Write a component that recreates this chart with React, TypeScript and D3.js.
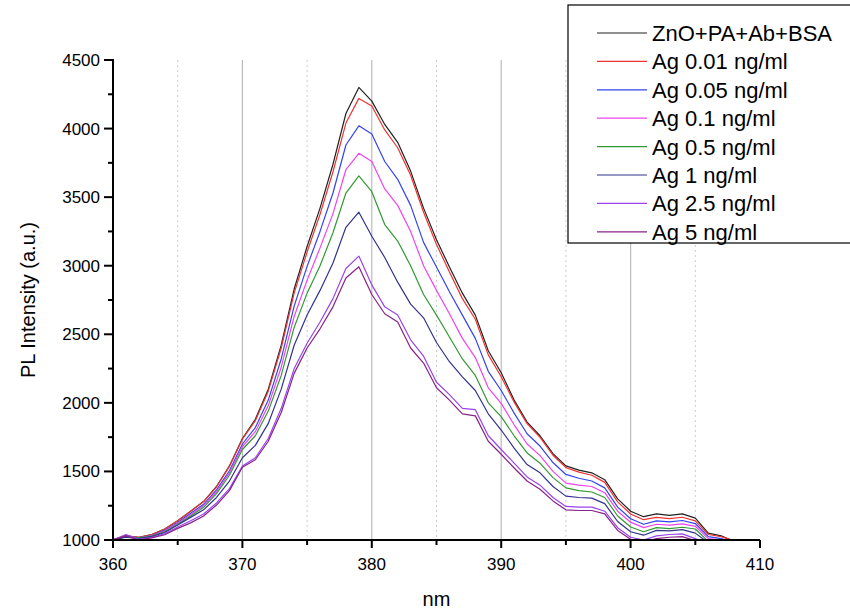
import React from 'react';
import * as d3 from 'd3';

// wavelength grid (nm), 1 nm steps
const wavelengths = d3.range(360, 410, 1);

const seriesNames = [
  'ZnO+PA+Ab+BSA',
  'Ag 0.01 ng/ml',
  'Ag 0.05 ng/ml',
  'Ag 0.1 ng/ml',
  'Ag 0.5 ng/ml',
  'Ag 1 ng/ml',
  'Ag 2.5 ng/ml',
  'Ag 5 ng/ml',
];

const colors = ['#222222', '#ee3333', '#3344ee', '#ee44ee', '#339933', '#33338f', '#9944ee', '#882288'];

const base = [1000, 1030, 1020, 1040, 1080, 1140, 1210, 1280, 1390, 1540, 1740, 1880, 2100, 2420, 2830, 3140, 3420, 3740, 4110, 4300,
  4200, 4030, 3900, 3690, 3420, 3190, 2990, 2800, 2640, 2380, 2220, 2020, 1860, 1760, 1630, 1540, 1510, 1490, 1440, 1300,
  1210, 1170, 1190, 1180, 1190, 1160, 1050, 1030, 990, 980];
const ag001 = [1000, 1030, 1020, 1040, 1080, 1140, 1210, 1280, 1388, 1537, 1735, 1870, 2085, 2400, 2800, 3100, 3375, 3685, 4040, 4220,
  4165, 3990, 3860, 3660, 3390, 3155, 2955, 2760, 2610, 2350, 2190, 2005, 1848, 1748, 1618, 1528, 1495, 1472, 1420, 1278,
  1190, 1148, 1165, 1156, 1166, 1140, 1040, 1025, 995, 985];
const ag005 = [1000, 1025, 1015, 1032, 1070, 1128, 1195, 1260, 1365, 1505, 1700, 1820, 2020, 2320, 2705, 2995, 3250, 3530, 3880, 4020,
  3960, 3760, 3630, 3440, 3170, 2990, 2810, 2640, 2470, 2230, 2090, 1925, 1775, 1685, 1565, 1478, 1450, 1430, 1380, 1240,
  1155, 1115, 1140, 1132, 1142, 1120, 1025, 1010, 985, 975];
const ag01 = [1000, 1025, 1015, 1030, 1065, 1122, 1185, 1250, 1352, 1490, 1680, 1790, 1980, 2260, 2630, 2895, 3130, 3380, 3700, 3820,
  3760, 3560, 3440, 3250, 3000, 2820, 2650, 2470, 2330, 2110, 1996, 1840, 1700, 1615, 1500, 1415, 1400, 1390, 1345, 1210,
  1130, 1090, 1115, 1108, 1118, 1100, 1010, 1000, 975, 965];
const ag05 = [1000, 1025, 1015, 1028, 1060, 1115, 1175, 1238, 1338, 1472, 1660, 1760, 1940, 2200, 2550, 2800, 3000, 3240, 3530, 3655,
  3540, 3300, 3180, 3000, 2790, 2640, 2480, 2320, 2200, 2000, 1899, 1760, 1635, 1560, 1455, 1380, 1360, 1350, 1310, 1175,
  1095, 1060, 1090, 1083, 1093, 1080, 990, 985, 965, 955];
const ag1 = [1000, 1020, 1010, 1025, 1055, 1110, 1165, 1220, 1310, 1430, 1600, 1690, 1850, 2100, 2420, 2640, 2820, 3020, 3280, 3390,
  3215, 3060, 2880, 2720, 2620, 2440, 2300, 2190, 2090, 1920, 1802, 1670, 1550, 1490, 1390, 1320, 1310, 1305, 1265, 1135,
  1060, 1035, 1070, 1066, 1076, 1050, 980, 980, 955, 945];
const ag25 = [1000, 1040, 1005, 1020, 1045, 1095, 1140, 1190, 1270, 1375, 1540, 1600, 1740, 1960, 2250, 2435, 2590, 2760, 2980, 3070,
  2860, 2700, 2640, 2460, 2340, 2150, 2060, 1960, 1950, 1760, 1660, 1560, 1460, 1400, 1310, 1245, 1240, 1240, 1210, 1090,
  1020, 1000, 1030, 1040, 1045, 1010, 965, 975, 945, 935];
const ag5 = [1000, 1030, 1000, 1015, 1038, 1085, 1125, 1175, 1255, 1360, 1530, 1585, 1720, 1930, 2215, 2400, 2540, 2700, 2910, 2992,
  2790, 2650, 2590, 2400, 2290, 2110, 2020, 1920, 1905, 1720, 1625, 1525, 1430, 1370, 1285, 1220, 1215, 1215, 1190, 1070,
  1005, 985, 1010, 1020, 1025, 995, 950, 960, 935, 925];

const seriesValues = [base, ag001, ag005, ag01, ag05, ag1, ag25, ag5];

const xMajor = [360, 370, 380, 390, 400, 410];
const xMinor = [365, 375, 385, 395, 405];
const yMajor = [1000, 1500, 2000, 2500, 3000, 3500, 4000, 4500];
const yMinor = [1250, 1750, 2250, 2750, 3250, 3750, 4250];

const width = 850;
const height = 610;
const margin = { top: 60, right: 90, bottom: 70, left: 113 };
const font = '"Liberation Sans", Arial, sans-serif';

export default function App() {
  const x = d3.scaleLinear().domain([360, 410]).range([margin.left, width - margin.right]);
  const y = d3.scaleLinear().domain([1000, 4500]).range([height - margin.bottom, margin.top]);
  const y0 = y(1000);

  const line = d3.line<number>()
    .x((_, i) => x(wavelengths[i]))
    .y(d => y(d));

  return (
    <svg width={width} height={height} style={{ position: 'absolute', left: 0, top: 0, background: '#fff' }}
      fontFamily={font}>
      <defs>
        <clipPath id="plot">
          <rect x={x(360)} y={0} width={x(410) - x(360)} height={y0} />
        </clipPath>
      </defs>

      {/* grid */}
      {xMajor.filter(v => v > 360 && v < 410).map(v => (
        <line key={'g' + v} x1={x(v)} x2={x(v)} y1={y(4500)} y2={y0} stroke="#bbbbbb" strokeWidth={1.2} />
      ))}
      {xMinor.map(v => (
        <line key={'gm' + v} x1={x(v)} x2={x(v)} y1={y(4500)} y2={y0} stroke="#cccccc" strokeWidth={1}
          strokeDasharray="2,3" />
      ))}

      {/* curves */}
      <g clipPath="url(#plot)" fill="none">
        {seriesValues.map((vals, i) => (
          <path key={i} d={line(vals) || ''} stroke={colors[i]} strokeWidth={1.2} strokeLinejoin="round" />
        ))}
      </g>

      {/* axes */}
      <line x1={x(360)} x2={x(410)} y1={y0} y2={y0} stroke="#000" strokeWidth={2} />
      <line x1={x(360)} x2={x(360)} y1={y(4500) - 1} y2={y0 + 1} stroke="#000" strokeWidth={2} />
      {xMajor.map(v => (
        <g key={'xt' + v}>
          <line x1={x(v)} x2={x(v)} y1={y0} y2={y0 + 8} stroke="#000" strokeWidth={2} />
          <text x={x(v)} y={y0 + 30} fontSize={17} textAnchor="middle">{v}</text>
        </g>
      ))}
      {xMinor.map(v => (
        <line key={'xm' + v} x1={x(v)} x2={x(v)} y1={y0} y2={y0 + 5} stroke="#000" strokeWidth={2} />
      ))}
      {yMajor.map(v => (
        <g key={'yt' + v}>
          <line x1={x(360) - 9} x2={x(360)} y1={y(v)} y2={y(v)} stroke="#000" strokeWidth={2} />
          <text x={x(360) - 13} y={y(v) + 6} fontSize={17} textAnchor="end">{v}</text>
        </g>
      ))}
      {yMinor.map(v => (
        <line key={'ym' + v} x1={x(360) - 5} x2={x(360)} y1={y(v)} y2={y(v)} stroke="#000" strokeWidth={2} />
      ))}

      <text x={(x(360) + x(410)) / 2} y={606} fontSize={20} textAnchor="middle">nm</text>
      <text transform={`translate(35,${(y(1000) + y(4500)) / 2}) rotate(-90)`} fontSize={20} textAnchor="middle">
        PL Intensity (a.u.)
      </text>

      {/* legend */}
      <rect x={568} y={5} width={300} height={238} fill="#fff" stroke="#000" strokeWidth={1.2} />
      {seriesNames.map((name, i) => {
        const cy = 33 + i * 28.4;
        return (
          <g key={name}>
            <line x1={597} x2={647} y1={cy} y2={cy} stroke={colors[i]} strokeWidth={1.2} />
            <text x={652} y={cy + 8} fontSize={22}>{name}</text>
          </g>
        );
      })}
    </svg>
  );
}
